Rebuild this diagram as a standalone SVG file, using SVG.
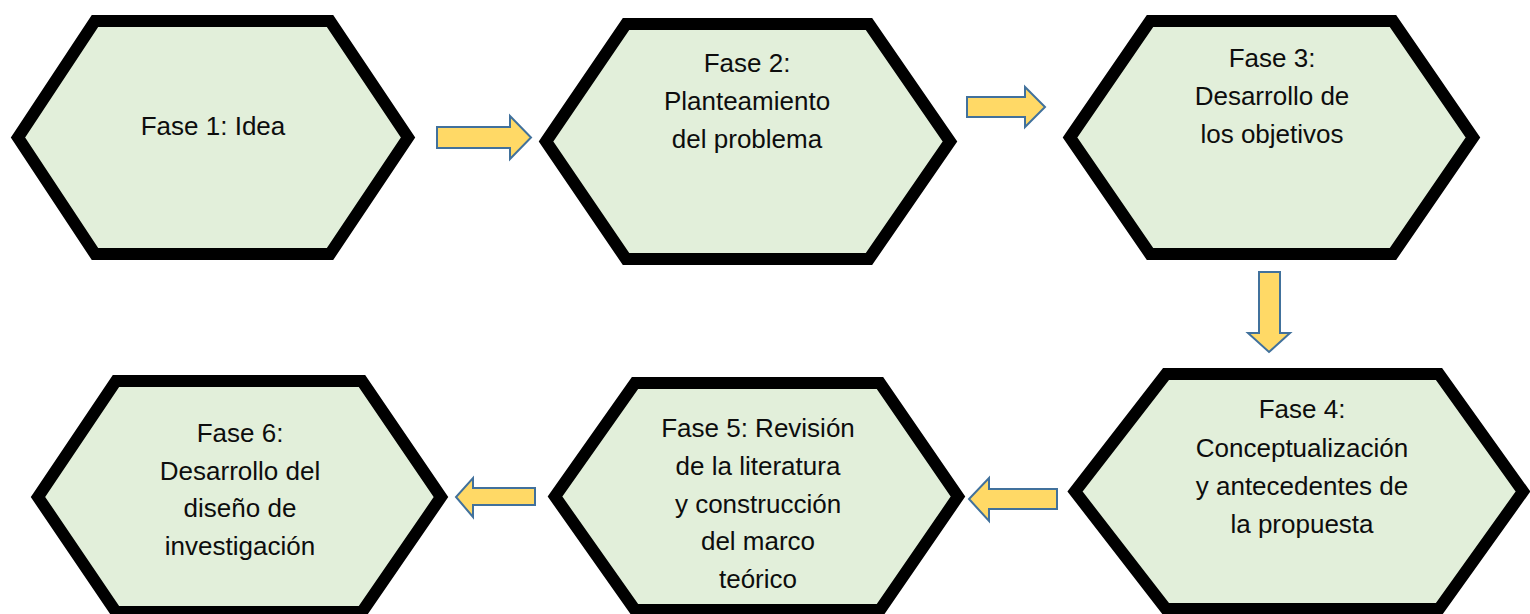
<svg xmlns="http://www.w3.org/2000/svg" width="1530" height="614" viewBox="0 0 1530 614">
<style>
.hex{fill:#E2EFDA;stroke:#000;stroke-width:12;stroke-linejoin:miter}
.arr{fill:#FFD966;stroke:#41719C;stroke-width:2;stroke-linejoin:miter}
text{font-family:"Liberation Sans",Arial,sans-serif;font-size:26px;fill:#0d0d0d;text-anchor:middle}
</style>
<rect width="1530" height="614" fill="#fff"/>
<g id="connectors">
<polygon class="arr" points="437,127 510,127 510,116 531,137.5 510,159 510,148 437,148"/>
<polygon class="arr" points="967,97 1025,97 1025,87 1045,107 1025,127 1025,117 967,117"/>
<polygon class="arr" points="1259,272 1280,272 1280,333 1290,333 1269,352 1248,333 1259,333"/>
<polygon class="arr" points="1057,489 989,489 989,478 969,499 989,521 989,509 1057,509"/>
<polygon class="arr" points="535,488 473,488 473,478 456,497 473,517 473,505 535,505"/>
</g>
<g id="fase1">
<polygon class="hex" points="18,137.5 95,21 330,21 408,137.5 330,254 95,254"/>
<text x="213" y="135">Fase 1: Idea</text>
</g>
<g id="fase2">
<polygon class="hex" points="546,141.5 626,24 869,24 950,141.5 869,259 626,259"/>
<text x="747" y="72">Fase 2:</text>
<text x="747" y="110">Planteamiento</text>
<text x="747" y="148">del problema</text>
</g>
<g id="fase3">
<polygon class="hex" points="1070,137.5 1150,21 1393,21 1473,137.5 1393,254 1150,254"/>
<text x="1272" y="67">Fase 3:</text>
<text x="1272" y="105">Desarrollo de</text>
<text x="1272" y="143">los objetivos</text>
</g>
<g id="fase4">
<polygon class="hex" points="1075,491.5 1166,374 1439,374 1523,491.5 1439,609 1166,609"/>
<text x="1302" y="418">Fase 4:</text>
<text x="1302" y="457">Conceptualización</text>
<text x="1302" y="495">y antecedentes de</text>
<text x="1302" y="533">la propuesta</text>
</g>
<g id="fase5">
<polygon class="hex" points="555,496.5 635,383 880,383 958,496.5 880,610 635,610"/>
<text x="758" y="437">Fase 5: Revisión</text>
<text x="758" y="475">de la literatura</text>
<text x="758" y="513">y construcción</text>
<text x="758" y="550">del marco</text>
<text x="758" y="588">teórico</text>
</g>
<g id="fase6">
<polygon class="hex" points="38,497 116,381 362,381 441,497 362,612 116,612"/>
<text x="240" y="442">Fase 6:</text>
<text x="240" y="480">Desarrollo del</text>
<text x="240" y="517">diseño de</text>
<text x="240" y="555">investigación</text>
</g>
</svg>
